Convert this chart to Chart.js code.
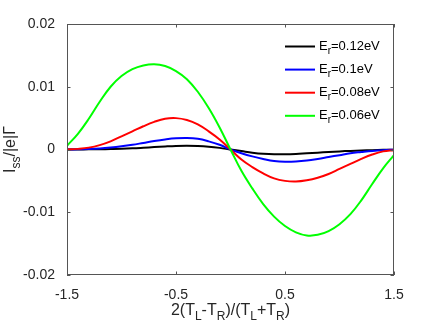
<!DOCTYPE html>
<html>
<head>
<meta charset="utf-8">
<script src="https://cdn.jsdelivr.net/npm/chart.js@4"></script>
<style>
  body { margin: 0; background: #fff; }
  #chart { display: block; }
</style>
</head>
<body>
<canvas id="chart" width="436" height="327"></canvas>
<script>
// x = 2(TL-TR)/(TL+TR)
const xValues = [-1.5, -1.4, -1.3, -1.2, -1.1, -1.0, -0.9, -0.8, -0.7, -0.6, -0.5, -0.4, -0.3, -0.2, -0.1, 0,
  0.1, 0.2, 0.3, 0.4, 0.5, 0.6, 0.7, 0.8, 0.9, 1.0, 1.1, 1.2, 1.3, 1.4, 1.5];

// Iss/|e|Gamma for each resonance energy
const er012 = [0, 0.00001, 0.00002, 0.00004, 0.00007, 0.00011, 0.00018, 0.00028, 0.00039, 0.00049, 0.00057, 0.0006, 0.00056, 0.00045, 0.00026, 0,
  -0.00025, -0.0005, -0.00068, -0.00077, -0.00076, -0.0007, -0.0006, -0.0005, -0.0004, -0.0003, -0.00022, -0.00015, -0.0001, -0.00005, -0.00002];
const er010 = [0, 0.00002, 0.00006, 0.00015, 0.0003, 0.0005, 0.00075, 0.00105, 0.00135, 0.0016, 0.00178, 0.00183, 0.0017, 0.0013, 0.00075, 0,
  -0.0006, -0.0011, -0.0015, -0.00182, -0.00194, -0.0019, -0.00175, -0.0015, -0.0012, -0.0009, -0.0006, -0.0004, -0.00022, -0.0001, -0.00003];
const er008 = [0, 0.0001, 0.0003, 0.0007, 0.0013, 0.0021, 0.0029, 0.0037, 0.0044, 0.0049, 0.005, 0.0047, 0.004, 0.0029, 0.0016, 0,
  -0.0016, -0.0028, -0.0038, -0.0046, -0.005, -0.0051, -0.0049, -0.0045, -0.0039, -0.0031, -0.0023, -0.0015, -0.0008, -0.0003, -0.0001];
const er006 = [0.0006, 0.0025, 0.0049, 0.0076, 0.01, 0.0117, 0.0128, 0.0134, 0.0136, 0.0133, 0.0125, 0.0112, 0.0092, 0.0066, 0.0035, 0,
  -0.0034, -0.0062, -0.0087, -0.0107, -0.0122, -0.0132, -0.0137, -0.0136, -0.013, -0.0119, -0.0103, -0.0081, -0.0055, -0.003, -0.0009];

const seriesNames = ["0.12eV", "0.1eV", "0.08eV", "0.06eV"];
const seriesColors = ["#000000", "#0000ff", "#ff0000", "#00ff00"];
const xTicks = [-1.5, -0.5, 0.5, 1.5];
const yTicks = [-0.02, -0.01, 0, 0.01, 0.02];

const FONT = "'Liberation Sans', Arial, Helvetica, sans-serif";
const TEXT_COLOR = "#262626";

function toPoints(ys) {
  return xValues.map((x, i) => ({ x: x, y: ys[i] }));
}

// draw a string made of normal and subscript parts, centred on (0,0)
function drawRich(ctx, parts, size, align) {
  const subSize = Math.round(size * 0.75);
  let total = 0;
  parts.forEach(p => {
    ctx.font = (p.sub ? subSize : size) + "px " + FONT;
    p.w = ctx.measureText(p.t).width;
    total += p.w;
  });
  let x = align === "left" ? 0 : -total / 2;
  ctx.textBaseline = "middle";
  ctx.textAlign = "left";
  parts.forEach(p => {
    ctx.font = (p.sub ? subSize : size) + "px " + FONT;
    ctx.fillText(p.t, x, p.sub ? size * 0.38 : 0);
    x += p.w;
  });
}

// box around the axes with inward ticks, axis titles and the legend
const decorations = {
  id: "decorations",
  afterDraw(chart) {
    const { ctx, chartArea: a } = chart;
    const xs = chart.scales.x, ys = chart.scales.y;
    const tick = 3.5;
    ctx.save();
    ctx.strokeStyle = "#555555";
    ctx.lineWidth = 1;
    ctx.strokeRect(a.left + 0.5, a.top + 0.5, a.width - 1, a.height - 1);
    ctx.beginPath();
    xTicks.forEach(v => {
      const px = Math.round(xs.getPixelForValue(v)) + 0.5;
      ctx.moveTo(px, a.bottom); ctx.lineTo(px, a.bottom - tick);
      ctx.moveTo(px, a.top); ctx.lineTo(px, a.top + tick);
    });
    yTicks.forEach(v => {
      const py = Math.round(ys.getPixelForValue(v)) + 0.5;
      ctx.moveTo(a.left, py); ctx.lineTo(a.left + tick, py);
      ctx.moveTo(a.right, py); ctx.lineTo(a.right - tick, py);
    });
    ctx.stroke();

    ctx.fillStyle = TEXT_COLOR;
    // x title
    ctx.save();
    ctx.translate((a.left + a.right) / 2, 311);
    drawRich(ctx, [{ t: "2(T" }, { t: "L", sub: true }, { t: "-T" }, { t: "R", sub: true },
      { t: ")/(T" }, { t: "L", sub: true }, { t: "+T" }, { t: "R", sub: true }, { t: ")" }], 16);
    ctx.restore();
    // y title
    ctx.save();
    ctx.translate(11, (a.top + a.bottom) / 2);
    ctx.rotate(-Math.PI / 2);
    drawRich(ctx, [{ t: "I" }, { t: "ss", sub: true }, { t: "/|e|\u0393" }], 16);
    ctx.restore();

    // legend
    seriesNames.forEach((name, i) => {
      const y = 46.5 + i * 23.1;
      ctx.strokeStyle = seriesColors[i];
      ctx.lineWidth = 2;
      ctx.beginPath();
      ctx.moveTo(285, y); ctx.lineTo(315, y);
      ctx.stroke();
      ctx.save();
      ctx.translate(319, y);
      ctx.fillStyle = "#000000";
      drawRich(ctx, [{ t: "E" }, { t: "r", sub: true }, { t: "=" + name }], 13, "left");
      ctx.restore();
    });
    ctx.restore();
  }
};

const seriesData = [er012, er010, er008, er006];

new Chart(document.getElementById("chart"), {
  type: "line",
  data: {
    datasets: seriesData.map((ys, i) => ({
      label: seriesNames[i],
      data: toPoints(ys),
      borderColor: seriesColors[i],
      borderWidth: 2,
      pointRadius: 0,
      fill: false,
      tension: 0.4,
      order: seriesData.length - i
    }))
  },
  options: {
    responsive: false,
    animation: false,
    devicePixelRatio: 1,
    layout: { padding: { top: 24, right: 42, left: 0, bottom: 0 } },
    plugins: { legend: { display: false }, tooltip: { enabled: false } },
    scales: {
      x: {
        type: "linear",
        min: -1.5,
        max: 1.5,
        grid: { display: false },
        border: { display: false },
        afterBuildTicks: s => { s.ticks = xTicks.map(v => ({ value: v })); },
        afterFit: s => { s.height = 52; },
        ticks: {
          color: TEXT_COLOR,
          font: { family: FONT, size: 14 },
          padding: 4,
          maxRotation: 0,
          callback: v => String(v)
        }
      },
      y: {
        min: -0.02,
        max: 0.02,
        grid: { display: false },
        border: { display: false },
        afterBuildTicks: s => { s.ticks = yTicks.map(v => ({ value: v })); },
        afterFit: s => { s.width = 67; },
        ticks: {
          color: TEXT_COLOR,
          font: { family: FONT, size: 14 },
          padding: 4,
          callback: v => String(v)
        }
      }
    }
  },
  plugins: [decorations]
});
</script>
</body>
</html>
